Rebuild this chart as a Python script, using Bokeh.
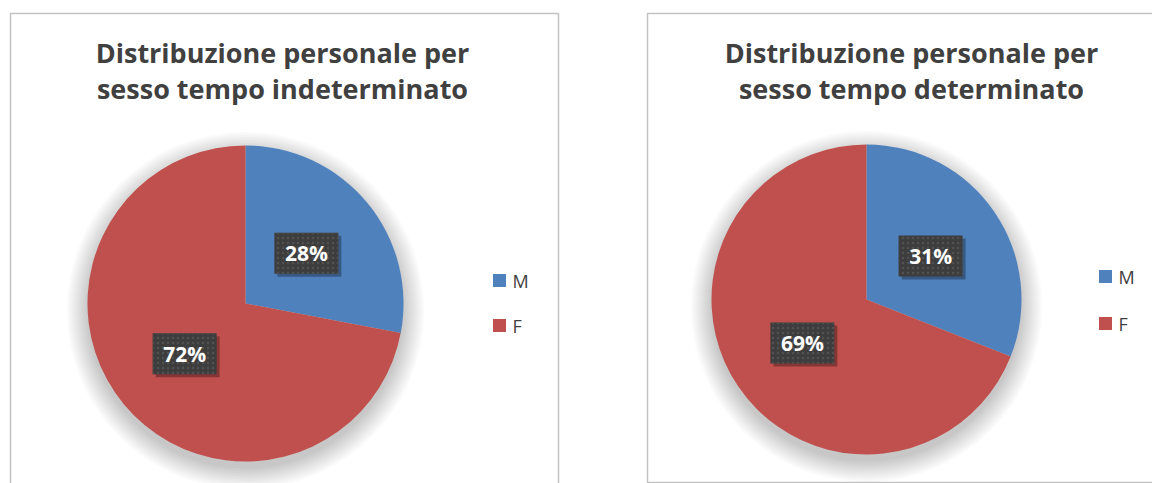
import math
from bokeh.plotting import figure
from bokeh.models import Range1d
from bokeh.core.properties import value
from bokeh.embed import file_html
from bokeh.resources import INLINE

# ---- data ----
categories = ["M", "F"]
left_values = [28, 72]
right_values = [31, 69]
left_title = ["Distribuzione personale per", "sesso tempo indeterminato"]
right_title = ["Distribuzione personale per", "sesso tempo determinato"]
colors = ["#4F81BD", "#C0504D"]

W, H = 1152, 483


def px(page_x):
    return page_x


def py(page_y):
    return H - page_y


p = figure(width=W, height=H, x_range=Range1d(0, W), y_range=Range1d(0, H),
           output_backend="svg", toolbar_location=None,
           x_axis_location=None, y_axis_location=None, min_border=0)
p.grid.visible = False
p.outline_line_color = None
p.background_fill_color = "white"
p.border_fill_color = "white"

FONT = value("Open Sans")

# panel frames
p.quad(left=px(10), right=px(558), top=py(13), bottom=-20,
       fill_color="white", line_color="#c3c3c3", line_width=1.5)
p.quad(left=px(647), right=W + 20, top=py(13), bottom=py(482),
       fill_color="white", line_color="#c3c3c3", line_width=1.5)


def pie(cx, cy, r, values, title, tx, legend_x, legend_ys):
    # soft shadow
    for k in range(14):
        p.circle(x=px(cx), y=py(cy) - 7, radius=r + k * 1.6,
                 fill_color="black", fill_alpha=0.014, line_color=None)
    total = float(sum(values))
    starts, ends = [], []
    cum = 0.0
    for v in values:
        starts.append(math.pi / 2 - 2 * math.pi * cum / total)
        cum += v
        ends.append(math.pi / 2 - 2 * math.pi * cum / total)
    p.wedge(x=px(cx), y=py(cy), radius=r, start_angle=starts, end_angle=ends,
            direction="clock", fill_color=colors, line_color=None)
    # data labels
    for v, s, e in zip(values, starts, ends):
        mid = (s + e) / 2
        lx = px(cx) + 0.5 * r * math.cos(mid)
        ly = py(cy) + 0.5 * r * math.sin(mid)
        txt = f"{round(100 * v / total)}%"
        p.rect(x=lx + 3, y=ly - 3, width=64, height=41,
               fill_color="black", fill_alpha=0.3, line_color=None)
        p.rect(x=lx, y=ly, width=64, height=41, fill_color="#3d3d3d",
               line_color=None, hatch_pattern="dot", hatch_color="#515151",
               hatch_scale=5, hatch_weight=1.5)
        p.text(x=[lx], y=[ly], text=[txt], text_color="white",
               text_font=FONT, text_font_style="bold", text_font_size="21px",
               text_align="center", text_baseline="middle")
    # title
    p.text(x=[px(tx), px(tx)], y=[py(52), py(88)], text=title,
           text_color="#404040", text_font=FONT, text_font_style="bold",
           text_font_size="27px", text_align="center",
           text_baseline="middle")
    # legend
    for cat, col, ly in zip(categories, colors, legend_ys):
        p.rect(x=px(legend_x), y=py(ly), width=13, height=13,
               fill_color=col, line_color=None)
        p.text(x=[px(legend_x + 13)], y=[py(ly)], text=[cat],
               text_color="#404040", text_font=FONT, text_font_size="18px",
               text_align="left", text_baseline="middle")


pie(245, 303, 158, left_values, left_title, 282, 499, [280, 325])
pie(866, 299, 155, right_values, right_title, 911, 1105, [276, 323])

open("out.html", "w").write(file_html(p, INLINE))
